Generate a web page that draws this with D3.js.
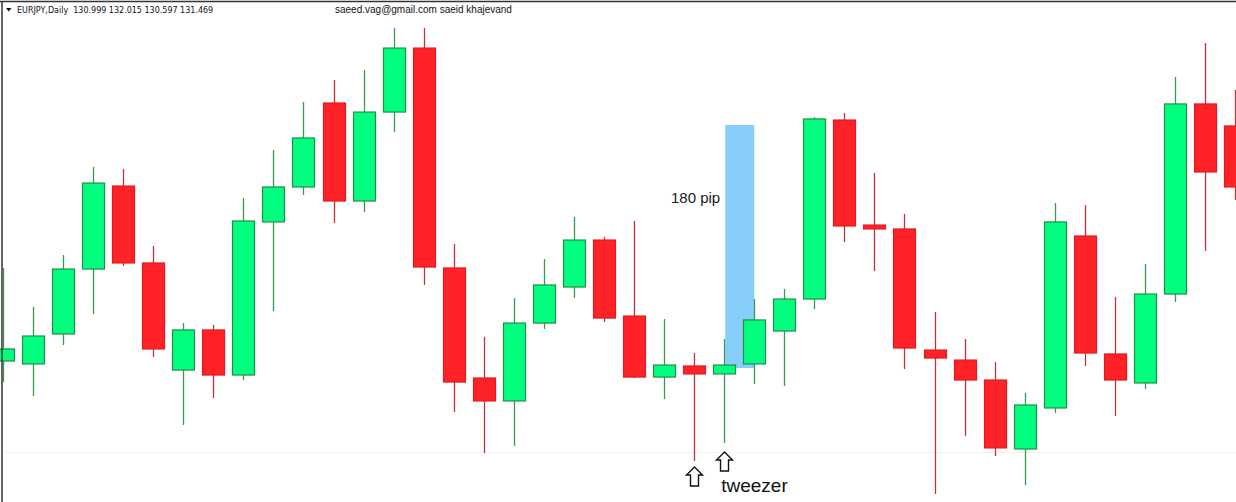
<!DOCTYPE html>
<html>
<head>
<meta charset="utf-8">
<script src="https://cdn.jsdelivr.net/npm/d3@7"></script>
<style>
  html, body { margin: 0; padding: 0; background: #ffffff; }
  svg { display: block; }
</style>
</head>
<body>
<svg id="chart" width="1236" height="502"></svg>
<script>
// ---- data (EURJPY daily) ----
const days  = d3.range(42);
const opens = [130.726,130.704,130.926,131.407,132.022,131.452,130.659,130.956,130.622,131.756,
               132.015,132.637,131.911,132.570,133.044,131.415,130.600,130.430,131.007,131.274,
               131.622,131.059,130.607,130.689,130.630,130.704,130.948,131.185,132.511,131.733,
               131.704,130.807,130.733,130.585,130.074,130.378,131.652,130.778,130.563,131.222,
               132.630,132.467];
const highs = [131.415,131.126,131.511,132.163,132.148,131.578,131.007,130.993,131.933,132.289,
               132.644,132.807,132.881,133.193,133.193,131.593,130.904,131.193,131.481,131.793,
               131.644,131.763,131.037,130.785,130.889,131.185,131.259,132.533,132.563,132.119,
               131.815,131.089,130.889,130.719,130.489,131.896,131.881,131.200,131.444,132.830,
               133.081,132.733];
const lows  = [130.570,130.467,130.844,131.074,131.430,130.756,130.252,130.452,130.585,131.096,
               131.956,131.748,131.830,132.422,131.289,130.348,130.044,130.096,130.963,131.193,
               131.015,130.600,130.444,129.985,130.119,130.556,130.541,131.111,131.607,131.393,
               130.667,129.741,130.170,130.022,129.807,130.341,130.689,130.319,130.519,131.163,
               131.541,131.919];
const closes= [130.815,130.911,131.407,132.044,131.452,130.815,130.956,130.622,131.763,132.015,
               132.378,131.911,132.570,133.044,131.422,130.570,130.430,131.007,131.289,131.622,
               131.044,130.607,130.696,130.630,130.696,131.030,131.185,132.519,131.726,131.704,
               130.822,130.748,130.585,130.082,130.400,131.756,130.785,130.585,131.222,132.630,
               132.126,132.015];
const headerText = "EURJPY,Daily  130.999 132.015 130.597 131.469";
const authorText = "saeed.vag@gmail.com saeid khajevand";
const pipBase = 130.674;     // bottom of the measured move
const pipCount = 180;        // 180 pips
const pipLabel = "180 pip";
const noteLabel = "tweezer";
const tweezerDays = [23, 24];

// ---- drawing ----
const W = 1236, H = 502;
const svg = d3.select("#chart");

const x = d3.scaleLinear().domain([0, 41]).range([3, 3 + 41 * 30.05]);
const y = d3.scaleLinear().domain([133.40 - H / 135, 133.40]).range([H, 0]);
const bodyW = 22;

const candles = days.map(i => ({ i, o: opens[i], h: highs[i], l: lows[i], c: closes[i] }));

// faint horizontal guide near bottom
svg.append("line").attr("x1", 3).attr("x2", W).attr("y1", 452.5).attr("y2", 452.5)
  .attr("stroke", "#f3f3ee").attr("stroke-width", 1);

// measured-move rectangle (behind candles)
svg.append("rect")
  .attr("x", x(24) + 1)
  .attr("width", x(25) - x(24) - 1)
  .attr("y", y(pipBase + pipCount / 100))
  .attr("height", y(pipBase) - y(pipBase + pipCount / 100))
  .attr("fill", "#87cefa");

svg.append("text")
  .attr("x", x(24) - 4).attr("y", y(pipBase + pipCount / 100) + 78)
  .attr("text-anchor", "end")
  .attr("font-family", "Arial, 'Liberation Sans', sans-serif")
  .attr("font-size", 15).attr("fill", "#1a1a1a")
  .text(pipLabel);

const g = svg.append("g");
const up = d => d.c >= d.o;

g.selectAll("line.wick").data(candles).join("line")
  .attr("class", "wick")
  .attr("x1", d => Math.round(x(d.i)) + 0.5).attr("x2", d => Math.round(x(d.i)) + 0.5)
  .attr("y1", d => y(d.h)).attr("y2", d => y(d.l))
  .attr("stroke", d => up(d) ? "#3a9a4e" : "#c23040")
  .attr("stroke-width", 1.3);

g.selectAll("rect.body").data(candles).join("rect")
  .attr("class", "body")
  .attr("x", d => Math.round(x(d.i)) + 0.5 - bodyW / 2)
  .attr("width", bodyW)
  .attr("y", d => y(Math.max(d.o, d.c)))
  .attr("height", d => Math.max(1, Math.abs(y(d.o) - y(d.c))))
  .attr("fill", d => up(d) ? "#00ff7f" : "#ff2226")
  .attr("stroke", d => up(d) ? "#1f8f45" : "#e01a22")
  .attr("stroke-width", 1.2);

// hollow up arrows under the tweezer candles
const arrowPath = "M0,0 L8,8 L4,8 L4,19 L-4,19 L-4,8 L-8,8 Z";
const arrowOffsets = [6, 9];
tweezerDays.forEach((di, k) => {
  const cx = Math.round(x(di)) + 0.5;
  svg.append("path")
    .attr("d", arrowPath)
    .attr("transform", `translate(${cx},${y(lows[di]) + arrowOffsets[k]})`)
    .attr("fill", "#ffffff").attr("stroke", "#111").attr("stroke-width", 1.4)
    .attr("stroke-linejoin", "miter");
});

svg.append("text")
  .attr("x", x(24) - 3).attr("y", 492)
  .attr("font-family", "Arial, 'Liberation Sans', sans-serif")
  .attr("font-size", 19).attr("fill", "#111")
  .text(noteLabel);

// frame
svg.append("line").attr("x1", 0).attr("x2", W).attr("y1", 1.5).attr("y2", 1.5)
  .attr("stroke", "#333").attr("stroke-width", 1.5);
svg.append("line").attr("x1", 2).attr("x2", 2).attr("y1", 1).attr("y2", H)
  .attr("stroke", "#333").attr("stroke-width", 1.5);

// header
svg.append("path").attr("d", "M6,8 L11.5,8 L8.75,11.5 Z").attr("fill", "#111");
svg.append("text")
  .attr("x", 17).attr("y", 13)
  .attr("font-family", "Verdana, 'DejaVu Sans', sans-serif")
  .attr("font-size", 8).attr("fill", "#111")
  .attr("xml:space", "preserve")
  .text(headerText);
svg.append("text")
  .attr("x", 335).attr("y", 13)
  .attr("font-family", "Arial, 'Liberation Sans', sans-serif")
  .attr("font-size", 10).attr("fill", "#111")
  .text(authorText);
</script>
</body>
</html>
